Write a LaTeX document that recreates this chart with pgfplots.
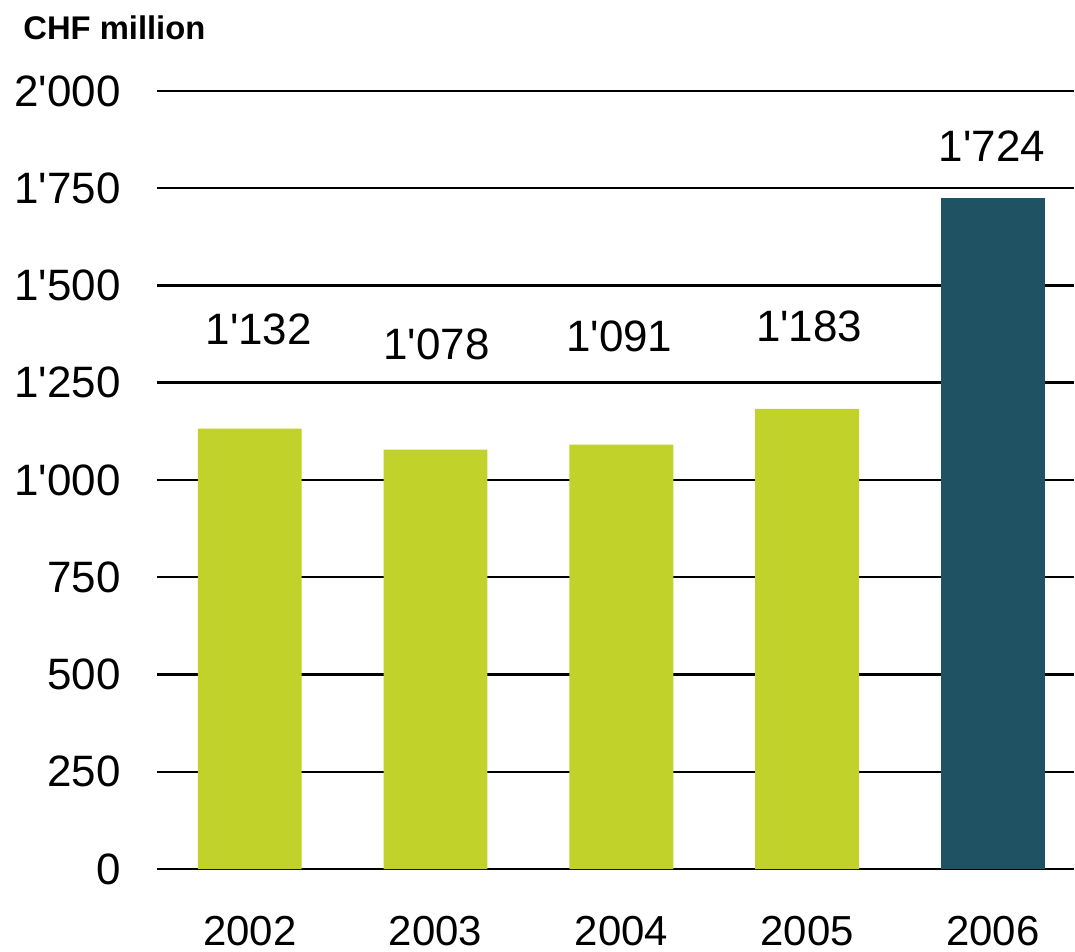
\documentclass[border=0pt]{standalone}
\usepackage{pgfplots}
\pgfplotsset{compat=1.18}
\usepackage{fontspec}
\setmainfont{Liberation Sans}
\definecolor{barGreen}{HTML}{C1D22B}
\definecolor{barDark}{HTML}{1F5262}
\newcommand\q{\textquotesingle}
\begin{document}
\begin{tikzpicture}
\begin{axis}[
  scale only axis,
  width=459pt, height=389.5pt,
  xmin=-0.5, xmax=4.435,
  ymin=0, ymax=2000,
  axis line style={draw=none},
  major tick length=0pt,
  ytick={0,250,500,750,1000,1250,1500,1750,2000},
  yticklabels={0,250,500,750,1\q000,1\q250,1\q500,1\q750,2\q000},
  xtick={0,1,2,3,4},
  xticklabels={2002,2003,2004,2005,2006},
  yticklabel style={font=\fontsize{22}{26}\selectfont, anchor=east, inner sep=0pt, xshift=-18pt},
  xticklabel style={font=\fontsize{21}{24}\selectfont, anchor=north, inner sep=0pt, yshift=-23.5pt},
  ymajorgrids,
  major grid style={black, line width=1.2pt},
  axis on top=false,
  clip=false,
]
\addplot[ybar, bar width=52pt, bar shift=0pt, fill=barGreen, draw=none]
  coordinates {(0,1132) (1,1078) (2,1091) (3,1183)};
\addplot[ybar, bar width=52pt, bar shift=0pt, fill=barDark, draw=none]
  coordinates {(4,1724)};
\node[font=\fontsize{22}{26}\selectfont, anchor=base, inner sep=0pt] at (axis cs:0.048,1348) {1\q132};
\node[font=\fontsize{22}{26}\selectfont, anchor=base, inner sep=0pt] at (axis cs:1.005,1309) {1\q078};
\node[font=\fontsize{22}{26}\selectfont, anchor=base, inner sep=0pt] at (axis cs:1.989,1330) {1\q091};
\node[font=\fontsize{22}{26}\selectfont, anchor=base, inner sep=0pt] at (axis cs:3.011,1357) {1\q183};
\node[font=\fontsize{22}{26}\selectfont, anchor=base, inner sep=0pt] at (axis cs:3.995,1818) {1\q724};
\end{axis}
\node[font=\bfseries\fontsize{16.4}{19}\selectfont, anchor=north west, inner sep=0pt] at (-67pt,427.5pt) {CHF million};
\path[use as bounding box] (-78.5pt,-41.5pt) rectangle (459pt,435pt);
\end{tikzpicture}
\end{document}
